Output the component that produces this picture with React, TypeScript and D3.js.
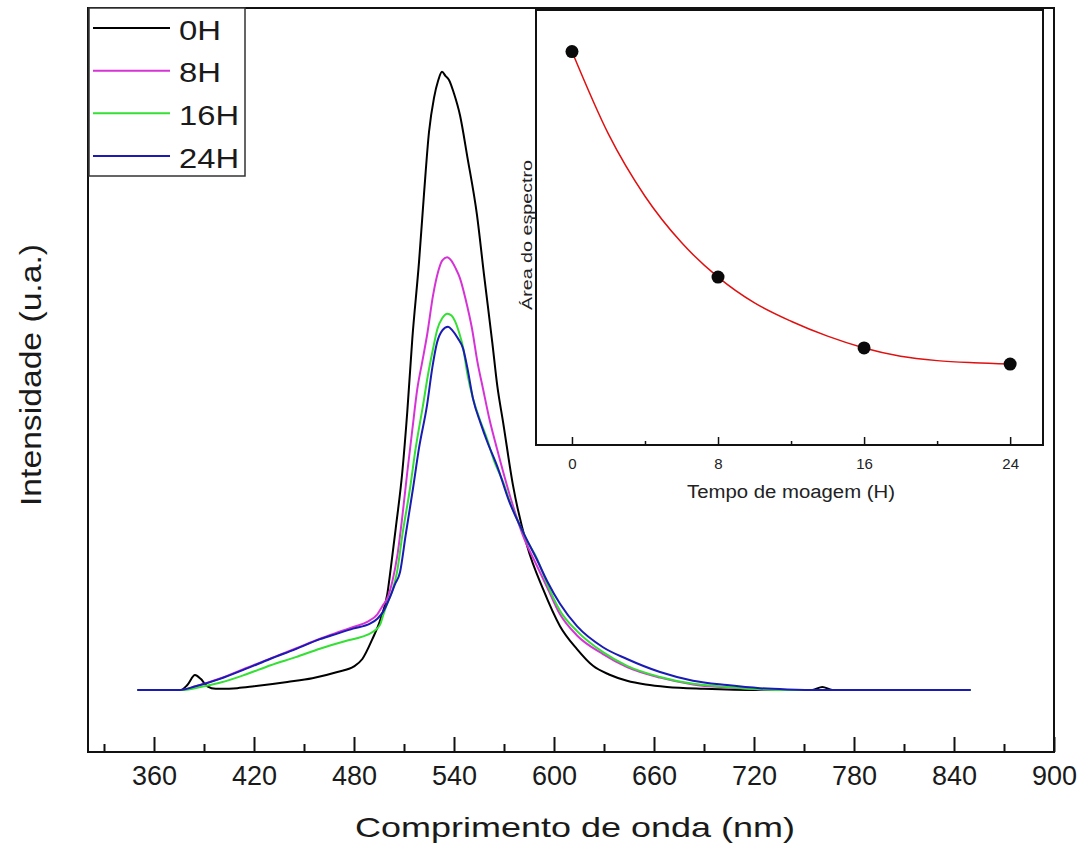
import React, { useEffect, useRef } from "react";
import * as d3 from "d3";

// emission spectra, [wavelength nm, intensity a.u.]
const s0H: [number, number][] = [
  [350, 0], [376, 0], [380, 0.008], [384.6, 0.024], [388, 0.018], [392, 0.006], [397, 0.002],
  [400, 0.002], [410, 0.003], [420, 0.006], [440, 0.013], [455, 0.019], [470, 0.029],
  [480, 0.038], [485, 0.05], [491, 0.082], [496, 0.115], [500, 0.155], [502, 0.195],
  [505, 0.26], [509, 0.352], [512, 0.45], [515, 0.567], [519, 0.69], [522, 0.8],
  [525, 0.9], [528, 0.955], [530.5, 0.983], [532.8, 0.997], [535, 0.99], [537, 0.984],
  [540, 0.962], [543.6, 0.927], [548, 0.86], [553.8, 0.766], [558, 0.67], [563, 0.56],
  [566, 0.49], [569.4, 0.433], [575.4, 0.33], [583.8, 0.233], [593.4, 0.163], [603.6, 0.103],
  [613.8, 0.066], [623.4, 0.039], [633, 0.025], [643.8, 0.015], [655, 0.009], [667.8, 0.005],
  [690, 0.002], [723.6, 0], [755, 0], [761, 0.005], [767, 0], [850, 0],
];
const s8H: [number, number][] = [
  [350, 0], [376, 0], [385, 0.006], [400, 0.019], [415, 0.035], [430, 0.051], [445, 0.067],
  [460, 0.083], [470, 0.093], [480, 0.102], [488, 0.11], [494, 0.122], [497, 0.135],
  [500, 0.148], [503, 0.175], [506, 0.217], [509, 0.28], [512, 0.352], [515, 0.42],
  [518, 0.486], [521, 0.53], [524, 0.575], [527.4, 0.636], [530.5, 0.675], [533, 0.693],
  [535.8, 0.698], [538.5, 0.692], [541, 0.68], [543.6, 0.664], [547, 0.63], [550.8, 0.583],
  [554, 0.53], [557.4, 0.486], [561, 0.44], [565.8, 0.389], [573.6, 0.313], [581.4, 0.249],
  [589.8, 0.2], [596, 0.165], [603.6, 0.122], [613.8, 0.088], [629.4, 0.058], [643.8, 0.037],
  [663.6, 0.02], [683.4, 0.009], [703.8, 0.004], [725, 0.001], [740, 0], [850, 0],
];
const s16H: [number, number][] = [
  [350, 0], [378, 0], [390, 0.006], [400, 0.012], [415, 0.025], [430, 0.04], [445, 0.053],
  [460, 0.067], [475, 0.079], [485, 0.086], [491.4, 0.094], [495.6, 0.105], [497.4, 0.12],
  [500, 0.14], [503, 0.16], [505.8, 0.19], [509, 0.25], [513.6, 0.325], [517, 0.39],
  [521.4, 0.459], [524.5, 0.51], [527.4, 0.55], [530, 0.582], [533, 0.6], [536, 0.607],
  [538.5, 0.604], [540.6, 0.595], [543, 0.577], [545.4, 0.553], [548, 0.51], [551.4, 0.47],
  [555, 0.44], [559.8, 0.405], [564, 0.37], [569.4, 0.336], [574, 0.3], [579.6, 0.265],
  [584, 0.24], [589.8, 0.212], [596, 0.17], [603.6, 0.128], [613.8, 0.095], [629.4, 0.061],
  [643.8, 0.039], [663.6, 0.021], [683.4, 0.01], [703.8, 0.005], [725, 0.001], [740, 0],
  [850, 0],
];
const s24H: [number, number][] = [
  [350, 0], [375.6, 0], [385, 0.006], [399.6, 0.018], [415, 0.034], [429.6, 0.05],
  [445, 0.066], [459.6, 0.082], [470, 0.091], [479.4, 0.099], [489.6, 0.107], [494, 0.115],
  [497.4, 0.126], [501.6, 0.15], [504.5, 0.17], [507.6, 0.19], [511, 0.25], [515.4, 0.325],
  [519, 0.39], [523.8, 0.459], [527, 0.52], [529.8, 0.56], [533, 0.58], [536.4, 0.586],
  [539, 0.58], [542.4, 0.567], [545.4, 0.551], [548, 0.52], [551.4, 0.47], [556, 0.43],
  [560, 0.4], [565.8, 0.362], [573, 0.305], [581.4, 0.255], [589.8, 0.21], [596, 0.175],
  [603.6, 0.139], [613.8, 0.103], [629.4, 0.069], [643.8, 0.05], [663.6, 0.029],
  [683.4, 0.015], [703.8, 0.008], [723.6, 0.003], [740, 0.001], [760, 0], [850, 0],
];

const legendLabels = ["0H", "8H", "16H", "24H"];
const lineColors = ["#000000", "#d633d6", "#33e033", "#1a1ab4"];

const xMajorTicks = [360, 420, 480, 540, 600, 660, 720, 780, 840, 900];
const xMinorTicks = [330, 390, 450, 510, 570, 630, 690, 750, 810, 870];

// inset: spectrum area vs milling time
const millHours = [0, 8, 16, 24];
const spectrumArea = [1.0, 0.484, 0.322, 0.285];
const fitHours = [0, 2, 4, 6, 8, 10, 12, 14, 16, 18, 20, 22, 24];
const fitArea = [1.0, 0.811, 0.669, 0.563, 0.484, 0.425, 0.383, 0.349, 0.322, 0.303, 0.293, 0.288, 0.285];
const insetMajor = [0, 8, 16, 24];
const insetMinor = [4, 12, 20];

function App() {
  const ref = useRef<SVGSVGElement>(null);

  useEffect(() => {
    const svg = d3.select(ref.current);
    svg.selectAll("*").remove();
    const font = "'Liberation Sans', Arial, Helvetica, sans-serif";

    svg.append("rect").attr("width", 1085).attr("height", 849).attr("fill", "white");

    let x = d3.scaleLinear().domain([320.4, 900]).range([88, 1054]);
    let y = d3.scaleLinear().domain([-0.1, 1.1]).range([752, 8]);

    // curves
    const line = d3.line<[number, number]>()
      .x(d => x(d[0]))
      .y(d => y(d[1]))
      .curve(d3.curveMonotoneX);

    const allSeries = [s0H, s8H, s16H, s24H];
    svg.append("g")
      .selectAll("path")
      .data(allSeries)
      .join("path")
      .attr("d", d => line(d))
      .attr("fill", "none")
      .attr("stroke", (d, i) => lineColors[i])
      .attr("stroke-width", 2)
      .attr("stroke-linejoin", "round");

    // x axis, ticks pointing inward
    const xAxis = svg.append("g").attr("transform", "translate(0,752)");
    xAxis.call(d3.axisBottom(x).tickValues(xMajorTicks).tickSizeInner(-15).tickSizeOuter(0)
      .tickPadding(14).tickFormat(d3.format("d")));
    svg.append("g").attr("transform", "translate(0,752)")
      .call(d3.axisBottom(x).tickValues(xMinorTicks).tickSizeInner(-8).tickSizeOuter(0).tickFormat(() => ""))
      .call(g => g.select(".domain").remove());
    xAxis.select(".domain").remove();
    svg.selectAll(".tick line").attr("stroke", "#111").attr("stroke-width", 2);
    xAxis.selectAll("text")
      .attr("font-family", font)
      .attr("font-size", 27)
      .attr("fill", "#1a1a1a");

    // frame
    svg.append("rect")
      .attr("x", x(320.4)).attr("y", y(1.1))
      .attr("width", x(900) - x(320.4)).attr("height", y(-0.1) - y(1.1))
      .attr("fill", "none").attr("stroke", "#111").attr("stroke-width", 2);

    // titles
    svg.append("text")
      .attr("x", 575).attr("y", 837)
      .attr("text-anchor", "middle")
      .attr("font-family", font).attr("font-size", 28).attr("fill", "#1a1a1a")
      .attr("textLength", 440).attr("lengthAdjust", "spacingAndGlyphs")
      .text("Comprimento de onda (nm)");

    svg.append("text")
      .attr("transform", "translate(41,375) rotate(-90)")
      .attr("text-anchor", "middle")
      .attr("font-family", font).attr("font-size", 30).attr("fill", "#1a1a1a")
      .attr("textLength", 262).attr("lengthAdjust", "spacingAndGlyphs")
      .text("Intensidade (u.a.)");

    // legend
    const lg = svg.append("g");
    lg.append("rect")
      .attr("x", 89).attr("y", 8).attr("width", 156).attr("height", 168)
      .attr("fill", "white").attr("stroke", "#333").attr("stroke-width", 1.5);
    const rowY = d3.scalePoint<string>().domain(legendLabels).range([28, 156]);
    legendLabels.forEach((lab, i) => {
      const yy = rowY(lab) as number;
      lg.append("line")
        .attr("x1", 93).attr("x2", 170).attr("y1", yy).attr("y2", yy)
        .attr("stroke", lineColors[i]).attr("stroke-width", 2);
      lg.append("text")
        .attr("x", 179).attr("y", yy + 11.5)
        .attr("font-family", font).attr("font-size", 27).attr("fill", "#1a1a1a")
        .attr("textLength", lab.length === 2 ? 42 : 60).attr("lengthAdjust", "spacingAndGlyphs")
        .text(lab);
    });

    // inset
    const ix = d3.scaleLinear().domain([-1.97, 25.8]).range([536, 1043]);
    const iy = d3.scaleLinear().domain([0.1, 1.095]).range([445, 10]);
    const ins = svg.append("g");
    ins.append("rect")
      .attr("x", ix(-1.97)).attr("y", iy(1.095))
      .attr("width", ix(25.8) - ix(-1.97)).attr("height", iy(0.1) - iy(1.095))
      .attr("fill", "white").attr("stroke", "#111").attr("stroke-width", 2);

    const ixAxis = ins.append("g").attr("transform", "translate(0,445)")
      .call(d3.axisBottom(ix).tickValues(insetMajor).tickSizeInner(-8).tickSizeOuter(0).tickPadding(13));
    ixAxis.select(".domain").remove();
    ixAxis.selectAll("text").attr("font-family", font).attr("font-size", 15).attr("fill", "#222");
    ixAxis.selectAll(".tick line").attr("stroke", "#111").attr("stroke-width", 1.5);
    ins.append("g").attr("transform", "translate(0,445)")
      .call(d3.axisBottom(ix).tickValues(insetMinor).tickSizeInner(-4).tickSizeOuter(0).tickFormat(() => ""))
      .call(g => g.select(".domain").remove())
      .call(g => g.selectAll(".tick line").attr("stroke", "#111").attr("stroke-width", 1.5));
    ins.append("g").attr("transform", "translate(536,0)")
      .call(d3.axisLeft(iy).tickValues([0.62]).tickSizeInner(4).tickSizeOuter(0).tickFormat(() => ""))
      .call(g => g.select(".domain").remove())
      .call(g => g.selectAll(".tick line").attr("stroke", "#111").attr("stroke-width", 1.5));

    const fit = d3.line<number>()
      .x((d, i) => ix(fitHours[i]))
      .y(d => iy(d))
      .curve(d3.curveMonotoneX);
    ins.append("path")
      .attr("d", fit(fitArea))
      .attr("fill", "none").attr("stroke", "#e01010").attr("stroke-width", 1.5);

    ins.append("g")
      .selectAll("circle")
      .data(spectrumArea)
      .join("circle")
      .attr("cx", (d, i) => ix(millHours[i]))
      .attr("cy", d => iy(d))
      .attr("r", 6.5)
      .attr("fill", "#0a0a0a");

    ins.append("text")
      .attr("x", 791).attr("y", 498)
      .attr("text-anchor", "middle")
      .attr("font-family", font).attr("font-size", 18).attr("fill", "#222")
      .attr("textLength", 208).attr("lengthAdjust", "spacingAndGlyphs")
      .text("Tempo de moagem (H)");

    ins.append("text")
      .attr("transform", "translate(532,235) rotate(-90)")
      .attr("text-anchor", "middle")
      .attr("font-family", font).attr("font-size", 15).attr("fill", "#222")
      .attr("textLength", 150).attr("lengthAdjust", "spacingAndGlyphs")
      .text("Área do espectro");
  }, []);

  return (
    <svg ref={ref} width={1085} height={849}
      style={{ position: "absolute", left: 0, top: 0, display: "block" }} />
  );
}

export default App;
